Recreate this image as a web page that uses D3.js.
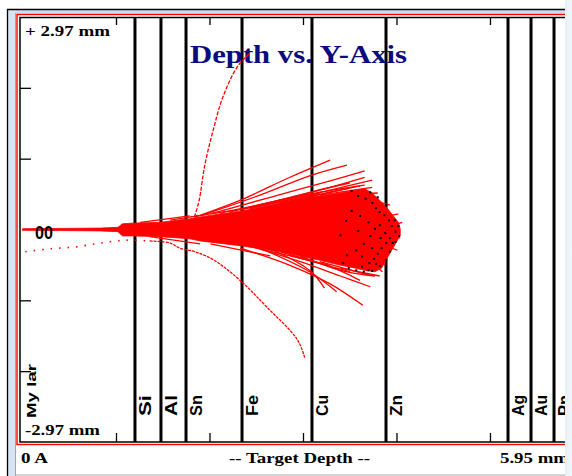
<!DOCTYPE html>
<html><head><meta charset="utf-8">
<script src="https://cdn.jsdelivr.net/npm/d3@7"></script>
<style>html,body{margin:0;padding:0;background:#fff;overflow:hidden}</style>
</head><body><svg id="c" width="572" height="476"></svg>
<script>
// ---------- data (mm) ----------
const depthDomain = [0, 5.95];
const lateralDomain = [-2.97, 2.97];
const depthTicks = [1, 2, 3, 4, 5];
const lateralTicks = [-1.98, -0.99, 0.99, 1.98];
const layerNames = ["Si", "Al", "Sn", "Fe", "Cu", "Zn", "Ag", "Au", "Pn"];
const layerDepths = [1.203, 1.481, 1.749, 2.348, 3.096, 3.888, 5.193, 5.439, 5.685];
const firstLayer = "My lar";

// dense ion cloud outline: upper edge (left→right) and lower edge (left→right)
const coreTop = [[0.00, 0.012], [0.40, 0.015], [0.83, 0.02], [1.02, 0.03], [1.07, 0.08], [1.20, 0.09], [1.47, 0.10], [1.79, 0.15], [1.90, 0.175], [2.11, 0.217], [2.35, 0.26], [2.54, 0.31], [2.75, 0.37], [2.97, 0.43], [3.18, 0.47], [3.40, 0.51], [3.56, 0.55], [3.66, 0.57], [3.74, 0.51], [3.82, 0.41], [3.90, 0.30], [3.96, 0.20], [4.02, 0.10], [4.04, 0.01]];
const coreBottom = [[0.00, -0.012], [0.40, -0.015], [0.83, -0.02], [1.02, -0.03], [1.07, -0.09], [1.20, -0.09], [1.47, -0.10], [1.79, -0.13], [1.90, -0.16], [2.35, -0.23], [2.54, -0.27], [2.75, -0.31], [2.97, -0.37], [3.18, -0.43], [3.40, -0.50], [3.56, -0.54], [3.66, -0.57], [3.77, -0.59], [3.84, -0.54], [3.90, -0.40], [3.98, -0.22], [4.04, -0.08]];

// individual trajectories that leave the cloud
const upperTracks = [
  [[1.84, 0.17], [2.33, 0.41], [2.86, 0.73], [3.29, 0.97]],
  [[1.90, 0.19], [2.54, 0.48], [3.07, 0.75], [3.47, 0.90]],
  [[2.01, 0.22], [2.65, 0.45], [3.29, 0.68], [3.66, 0.82]],
  [[2.11, 0.23], [2.75, 0.41], [3.29, 0.59], [3.66, 0.73]],
  [[2.22, 0.245], [2.97, 0.47], [3.66, 0.62]],
  [[2.33, 0.27], [3.07, 0.52], [3.50, 0.65]],
  [[2.43, 0.30], [3.29, 0.55], [3.74, 0.69]],
  [[1.26, 0.10], [1.79, 0.19]],
  [[1.58, 0.13], [2.22, 0.26]],
  [[2.43, 0.29], [3.18, 0.51]],
  [[2.75, 0.37], [3.50, 0.58]],
  [[2.97, 0.43], [3.61, 0.61]],
  [[3.18, 0.48], [3.74, 0.59]]
];
const lowerTracks = [
  [[2.33, -0.26], [2.86, -0.50], [3.29, -0.76], [3.64, -1.06]],
  [[2.43, -0.23], [2.97, -0.45], [3.40, -0.65], [3.72, -0.80]],
  [[2.54, -0.26], [3.07, -0.59], [3.36, -0.87]],
  [[2.65, -0.27], [3.07, -0.57], [3.23, -0.82]],
  [[2.75, -0.31], [3.29, -0.52], [3.61, -0.71]],
  [[2.97, -0.37], [3.40, -0.57], [3.77, -0.65]],
  [[1.36, -0.10], [1.90, -0.20]],
  [[2.01, -0.20], [2.65, -0.37]],
  [[2.54, -0.27], [3.29, -0.50]],
  [[2.86, -0.36], [3.50, -0.59]],
  [[3.18, -0.45], [3.72, -0.64]],
  [[3.40, -0.54], [3.82, -0.65]]
];
const tipTracks = [
  [[3.82, 0.16], [4.02, 0.22]],
  [[3.88, 0.02], [4.06, 0.10]],
  [[3.86, -0.06], [4.04, -0.12]],
  [[3.82, -0.19], [4.01, -0.29]],
  [[3.77, -0.36], [3.88, -0.50]],
  [[3.72, -0.45], [3.85, -0.59]],
  [[3.74, 0.41], [3.93, 0.34]],
  [[3.63, 0.50], [3.80, 0.51]]
];
const deepDownTrack = [[1.36, -0.16], [1.58, -0.19], [1.68, -0.26], [1.84, -0.31], [2.01, -0.40], [2.15, -0.52], [2.36, -0.75], [2.61, -1.08], [2.94, -1.54], [3.02, -1.80]];
const sparseTrack = [[0.03, -0.31], [0.29, -0.27], [0.56, -0.245], [0.83, -0.19], [1.10, -0.15], [1.36, -0.16]];
const sparseUpper = [[1.80, 0.18], [2.00, 0.22], [2.20, 0.27]];
const highTrack = [[1.82, 0.10], [1.85, 0.22], [1.89, 0.41], [1.95, 0.90], [2.04, 1.39], [2.14, 1.84], [2.29, 2.26], [2.38, 2.40], [2.43, 2.46]];

// stopped ions
const stopDepth = [3.52, 3.59, 3.67, 3.74, 3.78, 3.82, 3.87, 3.92, 3.95, 3.99, 3.93, 3.89, 3.84, 3.80, 3.76, 3.71, 3.63, 3.57, 3.49, 3.43, 3.47, 3.57, 3.65, 3.72, 3.77, 3.70, 3.61, 3.52, 3.46, 3.40, 3.59, 3.82, 3.88, 3.74, 3.63, 3.83, 3.96, 3.78, 3.70, 3.98, 4.02, 4.03, 3.99, 3.93, 3.89, 3.82, 3.74, 3.65, 3.89, 3.80, 3.72];
const stopLateral = [0.54, 0.47, 0.43, 0.37, 0.30, 0.245, 0.20, 0.13, 0.05, -0.03, -0.12, -0.19, -0.26, -0.34, -0.41, -0.47, -0.52, -0.57, -0.54, -0.47, -0.36, -0.29, -0.20, -0.09, 0.01, 0.10, 0.19, 0.26, 0.12, -0.08, -0.02, 0.06, -0.05, -0.26, -0.38, -0.12, -0.19, -0.48, -0.57, 0.13, 0.05, -0.09, -0.175, -0.31, -0.43, -0.51, -0.58, -0.59, 0.34, 0.45, 0.52];

// ---------- drawing ----------
const svg = d3.select("#c");
const x = d3.scaleLinear().domain(depthDomain).range([22.5, 578.8]);
const y = d3.scaleLinear().domain(lateralDomain).range([442, 17]);

// window chrome
svg.append("rect").attr("x", 8).attr("y", 10).attr("width", 560).attr("height", 4).attr("fill", "#d3dde8");
svg.append("rect").attr("x", 8).attr("y", 10).attr("width", 8).attr("height", 466).attr("fill", "#d6e3f0");
svg.append("line").attr("x1", 7).attr("x2", 567).attr("y1", 9.5).attr("y2", 9.5).attr("stroke", "#000").attr("stroke-width", 1.3);
svg.append("line").attr("x1", 7.5).attr("x2", 7.5).attr("y1", 9).attr("y2", 476).attr("stroke", "#000").attr("stroke-width", 1.3);
svg.append("line").attr("x1", 16).attr("x2", 572).attr("y1", 475).attr("y2", 475).attr("stroke", "#a8a8a8").attr("stroke-width", 1);
svg.append("line").attr("x1", 15.5).attr("x2", 15.5).attr("y1", 13).attr("y2", 476).attr("stroke", "#8a98a8").attr("stroke-width", 0.8);

// red outer frame & black plot frame
svg.append("rect").attr("x", 17).attr("y", 14.5).attr("width", 600).attr("height", 430).attr("fill", "none").attr("stroke", "#ff0000").attr("stroke-width", 1.4);
svg.append("rect").attr("x", 20).attr("y", 17.5).attr("width", 600).attr("height", 424.5).attr("fill", "#fff").attr("stroke", "#000").attr("stroke-width", 1.5);

const grad = svg.append("defs").append("linearGradient").attr("id", "rg").attr("x1", 0).attr("x2", 1).attr("y1", 0).attr("y2", 0);
grad.append("stop").attr("offset", 0).attr("stop-color", "#e4edf6");
grad.append("stop").attr("offset", 1).attr("stop-color", "#f5f8fb");

// layer boundaries
svg.append("g").selectAll("line").data(layerDepths).join("line")
  .attr("x1", d => x(d)).attr("x2", d => x(d)).attr("y1", 17).attr("y2", 442)
  .attr("stroke", "#000").attr("stroke-width", 3);

// ticks
svg.append("g").attr("transform", "translate(0,17)")
  .call(d3.axisTop(x).tickValues(depthTicks).tickSize(-8).tickFormat(""))
  .call(g => { g.select(".domain").remove(); g.selectAll("line").attr("stroke-width", 1.3); });
svg.append("g").attr("transform", "translate(0,442)")
  .call(d3.axisBottom(x).tickValues(depthTicks).tickSize(-9).tickFormat(""))
  .call(g => { g.select(".domain").remove(); g.selectAll("line").attr("stroke-width", 1.3); });
svg.append("g").attr("transform", "translate(20,0)")
  .call(d3.axisLeft(y).tickValues(lateralTicks).tickSize(-11).tickFormat(""))
  .call(g => { g.select(".domain").remove(); g.selectAll("line").attr("stroke-width", 1.3); });

// texts
const serif = "'Liberation Serif','Times New Roman',serif";
const sans = "'Liberation Sans',Arial,sans-serif";
function txt(s, px, py, size, len, opts) {
  const t = svg.append("text").attr("x", px).attr("y", py).text(s)
    .attr("font-family", (opts && opts.family) || serif).attr("font-weight", "bold")
    .attr("font-size", size).attr("fill", (opts && opts.fill) || "#000");
  if (len) t.attr("textLength", len).attr("lengthAdjust", "spacingAndGlyphs");
  return t;
}
txt("Depth vs. Y-Axis", 190, 63, 26, 217, { fill: "#0b0b80" });
txt("+ 2.97 mm", 25, 36, 15, 85);
txt("-2.97 mm", 25, 435, 15, 75);
txt("0 A", 21, 463, 15, 27);
txt("-- Target Depth --", 229, 463, 15, 141);
txt("5.95 mm", 500, 463, 15, 69);

// layer labels
svg.append("g").selectAll("text").data(layerNames).join("text")
  .attr("transform", (d, i) => `translate(${x(layerDepths[i]) + 16},416) rotate(-90)`)
  .text(d => d).attr("font-family", sans).attr("font-weight", "bold").attr("font-size", 16)
  .attr("textLength", 21).attr("lengthAdjust", "spacingAndGlyphs");
svg.append("text").attr("transform", "translate(36,418) rotate(-90)").text(firstLayer)
  .attr("font-family", sans).attr("font-weight", "bold").attr("font-size", 13)
  .attr("textLength", 54).attr("lengthAdjust", "spacingAndGlyphs");

// ion cloud
const outline = [...coreTop, ...coreBottom.slice().reverse()];
svg.append("path").datum(outline)
  .attr("d", d3.line().x(d => x(d[0])).y(d => y(d[1])).curve(d3.curveLinearClosed))
  .attr("fill", "#ff0000").attr("stroke", "#ff0000").attr("stroke-width", 0.8);

const line = d3.line().x(d => x(d[0])).y(d => y(d[1])).curve(d3.curveCatmullRom);
const tr = svg.append("g").attr("fill", "none").attr("stroke", "#ff0000");
tr.selectAll("path.s").data([...upperTracks, ...lowerTracks, ...tipTracks]).join("path")
  .attr("class", "s").attr("d", line).attr("stroke-width", 1.3);
tr.append("path").datum(deepDownTrack).attr("d", line).attr("stroke-width", 1.3).attr("stroke-dasharray", "3 1");
tr.append("path").datum(highTrack).attr("d", line).attr("stroke-width", 1.3).attr("stroke-dasharray", "4 1.5");
tr.append("path").datum(sparseTrack).attr("d", line).attr("stroke-width", 1.6).attr("stroke-dasharray", "1.5 7");
tr.append("path").datum(sparseUpper).attr("d", line).attr("stroke-width", 1.5).attr("stroke-dasharray", "1.5 4");

// stopped ions
svg.append("g").selectAll("rect").data(stopDepth).join("rect")
  .attr("x", (d, i) => x(d) - 1).attr("y", (d, i) => y(stopLateral[i]) - 1)
  .attr("width", 2).attr("height", 2).attr("fill", "#000");

// origin label
svg.append("text").attr("x", 35).attr("y", 239).text("00")
  .attr("font-family", sans).attr("font-weight", "bold").attr("font-size", 18)
  .attr("textLength", 18).attr("lengthAdjust", "spacingAndGlyphs");

svg.append("rect").attr("x", 565).attr("y", 0).attr("width", 7).attr("height", 476).attr("fill", "url(#rg)");
</script></body></html>
